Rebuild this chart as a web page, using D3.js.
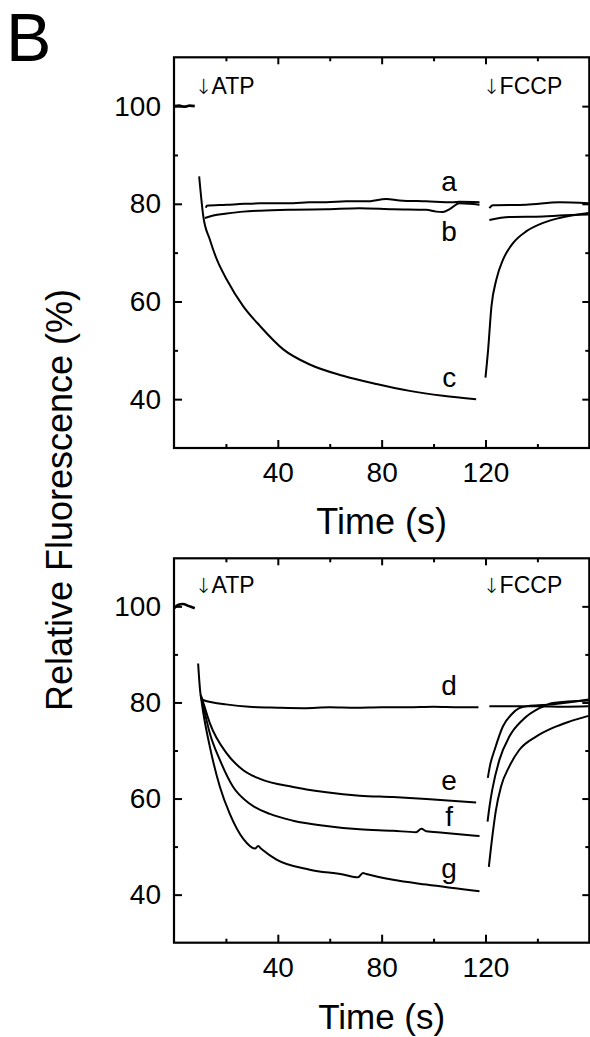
<!DOCTYPE html>
<html>
<head>
<meta charset="utf-8">
<script src="https://cdn.jsdelivr.net/npm/d3@7"></script>
<style>
  html, body { margin: 0; padding: 0; background: #fff; }
  svg { display: block; }
  text { font-family: "Liberation Sans", Arial, Helvetica, sans-serif; fill: #000; }
</style>
</head>
<body>
<script>
// ---------- data ----------
const xDomain = [0, 160];
const yDomain = [30, 110];
const xMajorTicks = [40, 80, 120];
const xMinorTicks = [20, 60, 100, 140];
const yMajorTicks = [40, 60, 80, 100];
const yMinorTicks = [50, 70, 90];
const xLabel = "Time (s)";
const yLabel = "Relative Fluorescence (%)";
const panelLetter = "B";
const eventArrow = "↓";
const eventLabels = ["ATP", "FCCP"];

// Top panel traces [time (s), relative fluorescence (%)]
const topBaseline = [[0, 100], [2, 100.1], [4, 99.9], [6, 100.1], [8, 100]];
const aBefore = [[12.3, 79.2], [12.6, 79.6], [20.3, 79.8], [27, 80.0], [33.1, 80.1], [45.9, 80.1], [52, 80.3], [58.7, 80.3], [66.4, 80.5], [74.1, 80.5], [81.8, 81.0], [86.9, 80.7], [97.2, 80.5], [107.4, 80.3], [110, 80.4], [117.7, 80.3]];
const bBefore = [[11.9, 77.1], [15.1, 77.6], [20.3, 78.0], [26.7, 78.4], [33.1, 78.6], [45.9, 78.8], [58.7, 78.9], [71.5, 79.1], [84.4, 78.9], [97.2, 78.8], [101, 78.4], [103.6, 78.3], [106.2, 78.9], [110, 80.1], [113.8, 80.0], [117.7, 79.8]];
const cBefore = [[9.7, 85.6], [11.3, 77.4], [13.8, 72.7], [16.5, 68.6], [20.3, 64.5], [26.7, 59.0], [33.1, 55.0], [42.1, 50.2], [52.3, 47.1], [65.1, 44.8], [78, 43.1], [90.8, 41.7], [103.6, 40.7], [116.4, 40.0]];
const aAfter = [[121.5, 79.1], [122.8, 79.7], [135.6, 79.8], [148.5, 80.3], [159.7, 80.1]];
const bAfter = [[121.5, 76.7], [129.2, 77.3], [142.2, 77.4], [148.5, 77.6], [159.7, 77.8]];
const cAfter = [[120, 44.4], [121, 50], [122.3, 59], [124.2, 64.5], [126.8, 68.6], [130.7, 72], [135.8, 74.4], [142.2, 76.1], [148.5, 77.1], [159.8, 78.1]];

// Bottom panel traces
const bottomBaseline = [[0, 99.6], [1.5, 100.3], [3.5, 100.5], [5.5, 100.1], [7.5, 99.7], [8, 99.6]];
const dBefore = [[9.3, 88.1], [10.3, 81.5], [11, 80.6], [15, 80.0], [20, 79.6], [29, 79.1], [40, 78.9], [50, 78.8], [60, 79.0], [70, 78.9], [80, 79.0], [90, 79.0], [100, 79.1], [110, 79.0], [117.3, 79.0]];
const eBefore = [[10.3, 81.5], [11.3, 79.9], [13.8, 75.7], [20.3, 69.4], [26.7, 65.9], [33.1, 64.1], [45.9, 62.4], [58.7, 61.3], [71.5, 60.6], [84.4, 60.3], [97.2, 59.9], [116.4, 59.2]];
const fBefore = [[10.3, 81.5], [11.3, 79.2], [13.8, 73.6], [17.7, 68], [22.8, 62.4], [29.2, 58.9], [36.9, 56.8], [45.9, 55.4], [58.7, 54.3], [71.5, 53.6], [84.4, 53.3], [93.3, 53.0], [95.3, 53.7], [97.2, 53.2], [103.6, 52.9], [117.7, 52.2]];
const gBefore = [[10.3, 81.5], [11.3, 77.8], [13.8, 70.8], [17.7, 62.4], [21.5, 56.8], [26.7, 51.6], [31.2, 49.6], [32.4, 50.1], [33.7, 49.5], [39.5, 47.3], [52.3, 45.2], [65.1, 44.2], [70.9, 43.6], [72.8, 44.5], [74.1, 44.3], [84.4, 43.1], [97.2, 42.1], [117.7, 40.7]];
const dAfter = [[121.5, 79.2], [130, 79.2], [140, 79.2], [150, 79.1], [159.7, 79.2]];
const eAfter = [[120.9, 64.3], [121.8, 67], [123.5, 70.1], [126.7, 75], [130, 77.5], [133, 78.8], [137, 79.3], [146, 79.6], [159.7, 80.6]];
const fAfter = [[120.8, 55.2], [121.6, 58.5], [122.6, 61.8], [125.4, 68.1], [129.2, 72.9], [134.4, 76.4], [140.8, 78.8], [146, 79.9], [159.7, 80.4]];
const gAfter = [[121.3, 45.8], [122.8, 52.8], [124, 57.5], [126, 62.5], [129.2, 66.7], [133, 70.1], [139.5, 72.9], [145.9, 74.7], [152.3, 76.0], [159.7, 77.2]];

// curve labels: [text, time, value]
const topCurveLabels = [["a", 106, 82.6], ["b", 106, 72.3], ["c", 106, 42.4]];
const bottomCurveLabels = [["d", 106, 81.6], ["e", 106, 61.7], ["f", 106, 54.2], ["g", 106, 43.4]];

// ---------- drawing ----------
const W = 590, H = 1037;
const svg = d3.select("body").append("svg").attr("width", W).attr("height", H);

svg.append("text").attr("x", 6).attr("y", 61).attr("font-size", 68).text(panelLetter);

svg.append("text")
  .attr("transform", "translate(72,500) rotate(-90)")
  .attr("text-anchor", "middle").attr("font-size", 36).text(yLabel);

function drawPanel(cfg) {
  const x = d3.scaleLinear().domain(xDomain).range([174, 589.3]);
  const y = d3.scaleLinear().domain(yDomain).range([cfg.bottom, cfg.top]);
  const g = svg.append("g");

  const fontTick = 28;
  function styleAxis(sel) {
    sel.select(".domain").remove();
    sel.selectAll(".tick line").attr("stroke", "#000").attr("stroke-width", 2);
    sel.selectAll(".tick text").attr("font-size", fontTick).attr("font-family", "'Liberation Sans', Arial, sans-serif").attr("fill", "#000");
  }
  // left
  g.append("g").attr("transform", `translate(${x(0)},0)`)
    .call(d3.axisLeft(y).tickValues(yMajorTicks).tickSize(-8).tickPadding(13).tickFormat(d3.format("d"))).call(styleAxis);
  g.append("g").attr("transform", `translate(${x(0)},0)`)
    .call(d3.axisLeft(y).tickValues(yMinorTicks).tickSize(-4).tickFormat("")).call(styleAxis);
  // right
  g.append("g").attr("transform", `translate(${x(160)},0)`)
    .call(d3.axisRight(y).tickValues(yMajorTicks).tickSize(-7).tickFormat("")).call(styleAxis);
  g.append("g").attr("transform", `translate(${x(160)},0)`)
    .call(d3.axisRight(y).tickValues(yMinorTicks).tickSize(-4).tickFormat("")).call(styleAxis);
  // bottom
  g.append("g").attr("transform", `translate(0,${y(30)})`)
    .call(d3.axisBottom(x).tickValues(xMajorTicks).tickSize(-8).tickPadding(14).tickFormat(d3.format("d"))).call(styleAxis);
  g.append("g").attr("transform", `translate(0,${y(30)})`)
    .call(d3.axisBottom(x).tickValues(xMinorTicks).tickSize(-4).tickFormat("")).call(styleAxis);
  // top
  g.append("g").attr("transform", `translate(0,${y(110)})`)
    .call(d3.axisTop(x).tickValues(xMajorTicks).tickSize(-7).tickFormat("")).call(styleAxis);
  g.append("g").attr("transform", `translate(0,${y(110)})`)
    .call(d3.axisTop(x).tickValues(xMinorTicks).tickSize(-4).tickFormat("")).call(styleAxis);

  // frame
  g.append("rect").attr("x", x(0)).attr("y", y(110))
    .attr("width", x(160) - x(0)).attr("height", y(30) - y(110))
    .attr("fill", "none").attr("stroke", "#000").attr("stroke-width", 2.2);

  const line = d3.line().x(d => x(d[0])).y(d => y(d[1])).curve(d3.curveMonotoneX);
  cfg.series.forEach(s => {
    g.append("path").datum(s).attr("d", line)
      .attr("fill", "none").attr("stroke", "#000").attr("stroke-width", 2).attr("stroke-linejoin", "round");
  });
  g.append("path").datum(cfg.baseline).attr("d", line)
    .attr("fill", "none").attr("stroke", "#000").attr("stroke-width", 2.6);

  cfg.labels.forEach(l => {
    g.append("text").attr("x", x(l[1])).attr("y", y(l[2]))
      .attr("text-anchor", "middle").attr("font-size", 28).text(l[0]);
  });

  [[195, eventLabels[0]], [483, eventLabels[1]]].forEach(([ex, lab]) => {
    const t = g.append("text").attr("x", ex).attr("y", cfg.top + cfg.evOff).attr("font-size", 23);
    t.append("tspan").attr("font-family", "'DejaVu Sans', sans-serif").attr("font-weight", 200)
      .attr("font-size", 21).attr("fill", "#000").text(eventArrow);
    t.append("tspan").attr("dx", -1).text(lab);
  });

  g.append("text").attr("x", (x(0) + x(160)) / 2).attr("y", cfg.bottom + cfg.xlabOff)
    .attr("text-anchor", "middle").attr("font-size", cfg.xlabSize).text(xLabel);
}

drawPanel({
  top: 57.3, bottom: 448, evOff: 36.7, xlabOff: 86, xlabSize: 36,
  series: [aBefore, bBefore, cBefore, aAfter, bAfter, cAfter],
  baseline: topBaseline,
  labels: topCurveLabels
});
drawPanel({
  top: 558.3, bottom: 942.7, evOff: 35, xlabOff: 86.5, xlabSize: 35,
  series: [dBefore, eBefore, fBefore, gBefore, dAfter, eAfter, fAfter, gAfter],
  baseline: bottomBaseline,
  labels: bottomCurveLabels
});
</script>
</body>
</html>
